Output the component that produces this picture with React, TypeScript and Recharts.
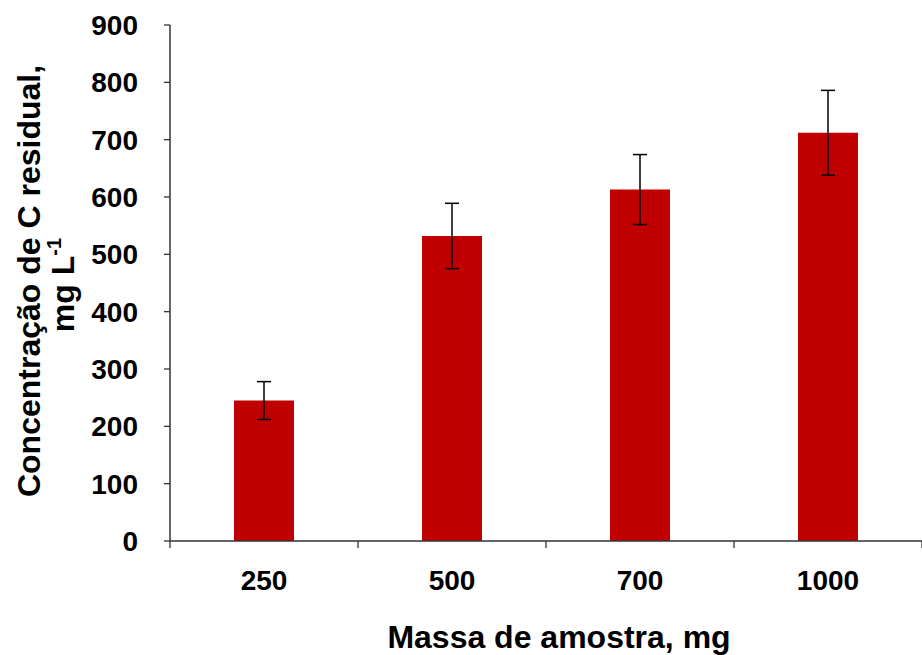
import { BarChart, Bar, XAxis, YAxis, ErrorBar } from "recharts"

// massa de amostra (mg) vs concentração de C residual (mg L-1)
const massas = ["250", "500", "700", "1000"]
const concentracao = [245, 532, 613, 712]
const desvio = [33, 57, 61, 74]
const yTicks = [0, 100, 200, 300, 400, 500, 600, 700, 800, 900]

const data = massas.map((m, i) => ({ massa: m, conc: concentracao[i], err: desvio[i] }))

const FONT = '"Liberation Sans", Arial, sans-serif'
const AXIS = "#333333"

// category label plus the tick marks on the category boundaries
const XTick = (props: any) => {
  const { x, y, payload, width, index } = props
  const half = width / massas.length / 2
  const last = index === massas.length - 1
  return (
    <g>
      <line x1={x - half} x2={x - half} y1={y} y2={y + 7} stroke={AXIS} strokeWidth={1.3} />
      {last && <line x1={x + half} x2={x + half} y1={y} y2={y + 7} stroke={AXIS} strokeWidth={1.3} />}
      <text x={x} y={y + 49} textAnchor="middle" fontFamily={FONT} fontWeight="bold" fontSize={28} fill="#000">
        {payload.value}
      </text>
    </g>
  )
}

const XLabel = (props: any) => {
  const { viewBox } = props
  const cx = viewBox.x + viewBox.width / 2 + 13
  return (
    <text x={cx} y={viewBox.y + viewBox.height - 7} textAnchor="middle" fontFamily={FONT} fontWeight="bold" fontSize={32} fill="#000">
      Massa de amostra, mg
    </text>
  )
}

const YLabel = (props: any) => {
  const { viewBox } = props
  const cy = viewBox.y + viewBox.height / 2 - 2
  return (
    <g fontFamily={FONT} fontWeight="bold" fontSize={32} fill="#000">
      <text x={40} y={cy} textAnchor="middle" transform={`rotate(-90, 40, ${cy})`}>
        Concentração de C residual,
      </text>
      <text x={74} y={cy + 4} textAnchor="middle" transform={`rotate(-90, 74, ${cy + 4})`}>
        <tspan>mg L</tspan>
        <tspan dy={-13} fontSize={20}>-1</tspan>
      </text>
    </g>
  )
}

export default function App() {
  return (
    <div style={{ position: "absolute", left: 0, top: 0, background: "#fff" }}>
      <BarChart width={922} height={655} data={data} margin={{ top: 25, right: 0, bottom: 0, left: 0 }}>
        <XAxis
          dataKey="massa"
          height={114}
          tickSize={0}
          tickMargin={0}
          tickLine={false}
          interval={0}
          axisLine={{ stroke: AXIS, strokeWidth: 1.5 }}
          tick={<XTick />}
          label={<XLabel />}
          padding={{ left: 0, right: 0 }}
        />
        <YAxis
          width={170}
          domain={[0, 900]}
          ticks={yTicks}
          interval={0}
          tickSize={6}
          tickMargin={26}
          axisLine={{ stroke: AXIS, strokeWidth: 1.5 }}
          tickLine={{ stroke: AXIS, strokeWidth: 1.3 }}
          tick={{ fill: "#000", fontSize: 28, fontWeight: "bold", fontFamily: FONT }}
          label={<YLabel />}
        />
        <Bar dataKey="conc" fill="#C00000" barSize={60} isAnimationActive={false}>
          <ErrorBar dataKey="err" width={7} stroke="#000" strokeWidth={1.5} direction="y" />
        </Bar>
      </BarChart>
    </div>
  )
}
